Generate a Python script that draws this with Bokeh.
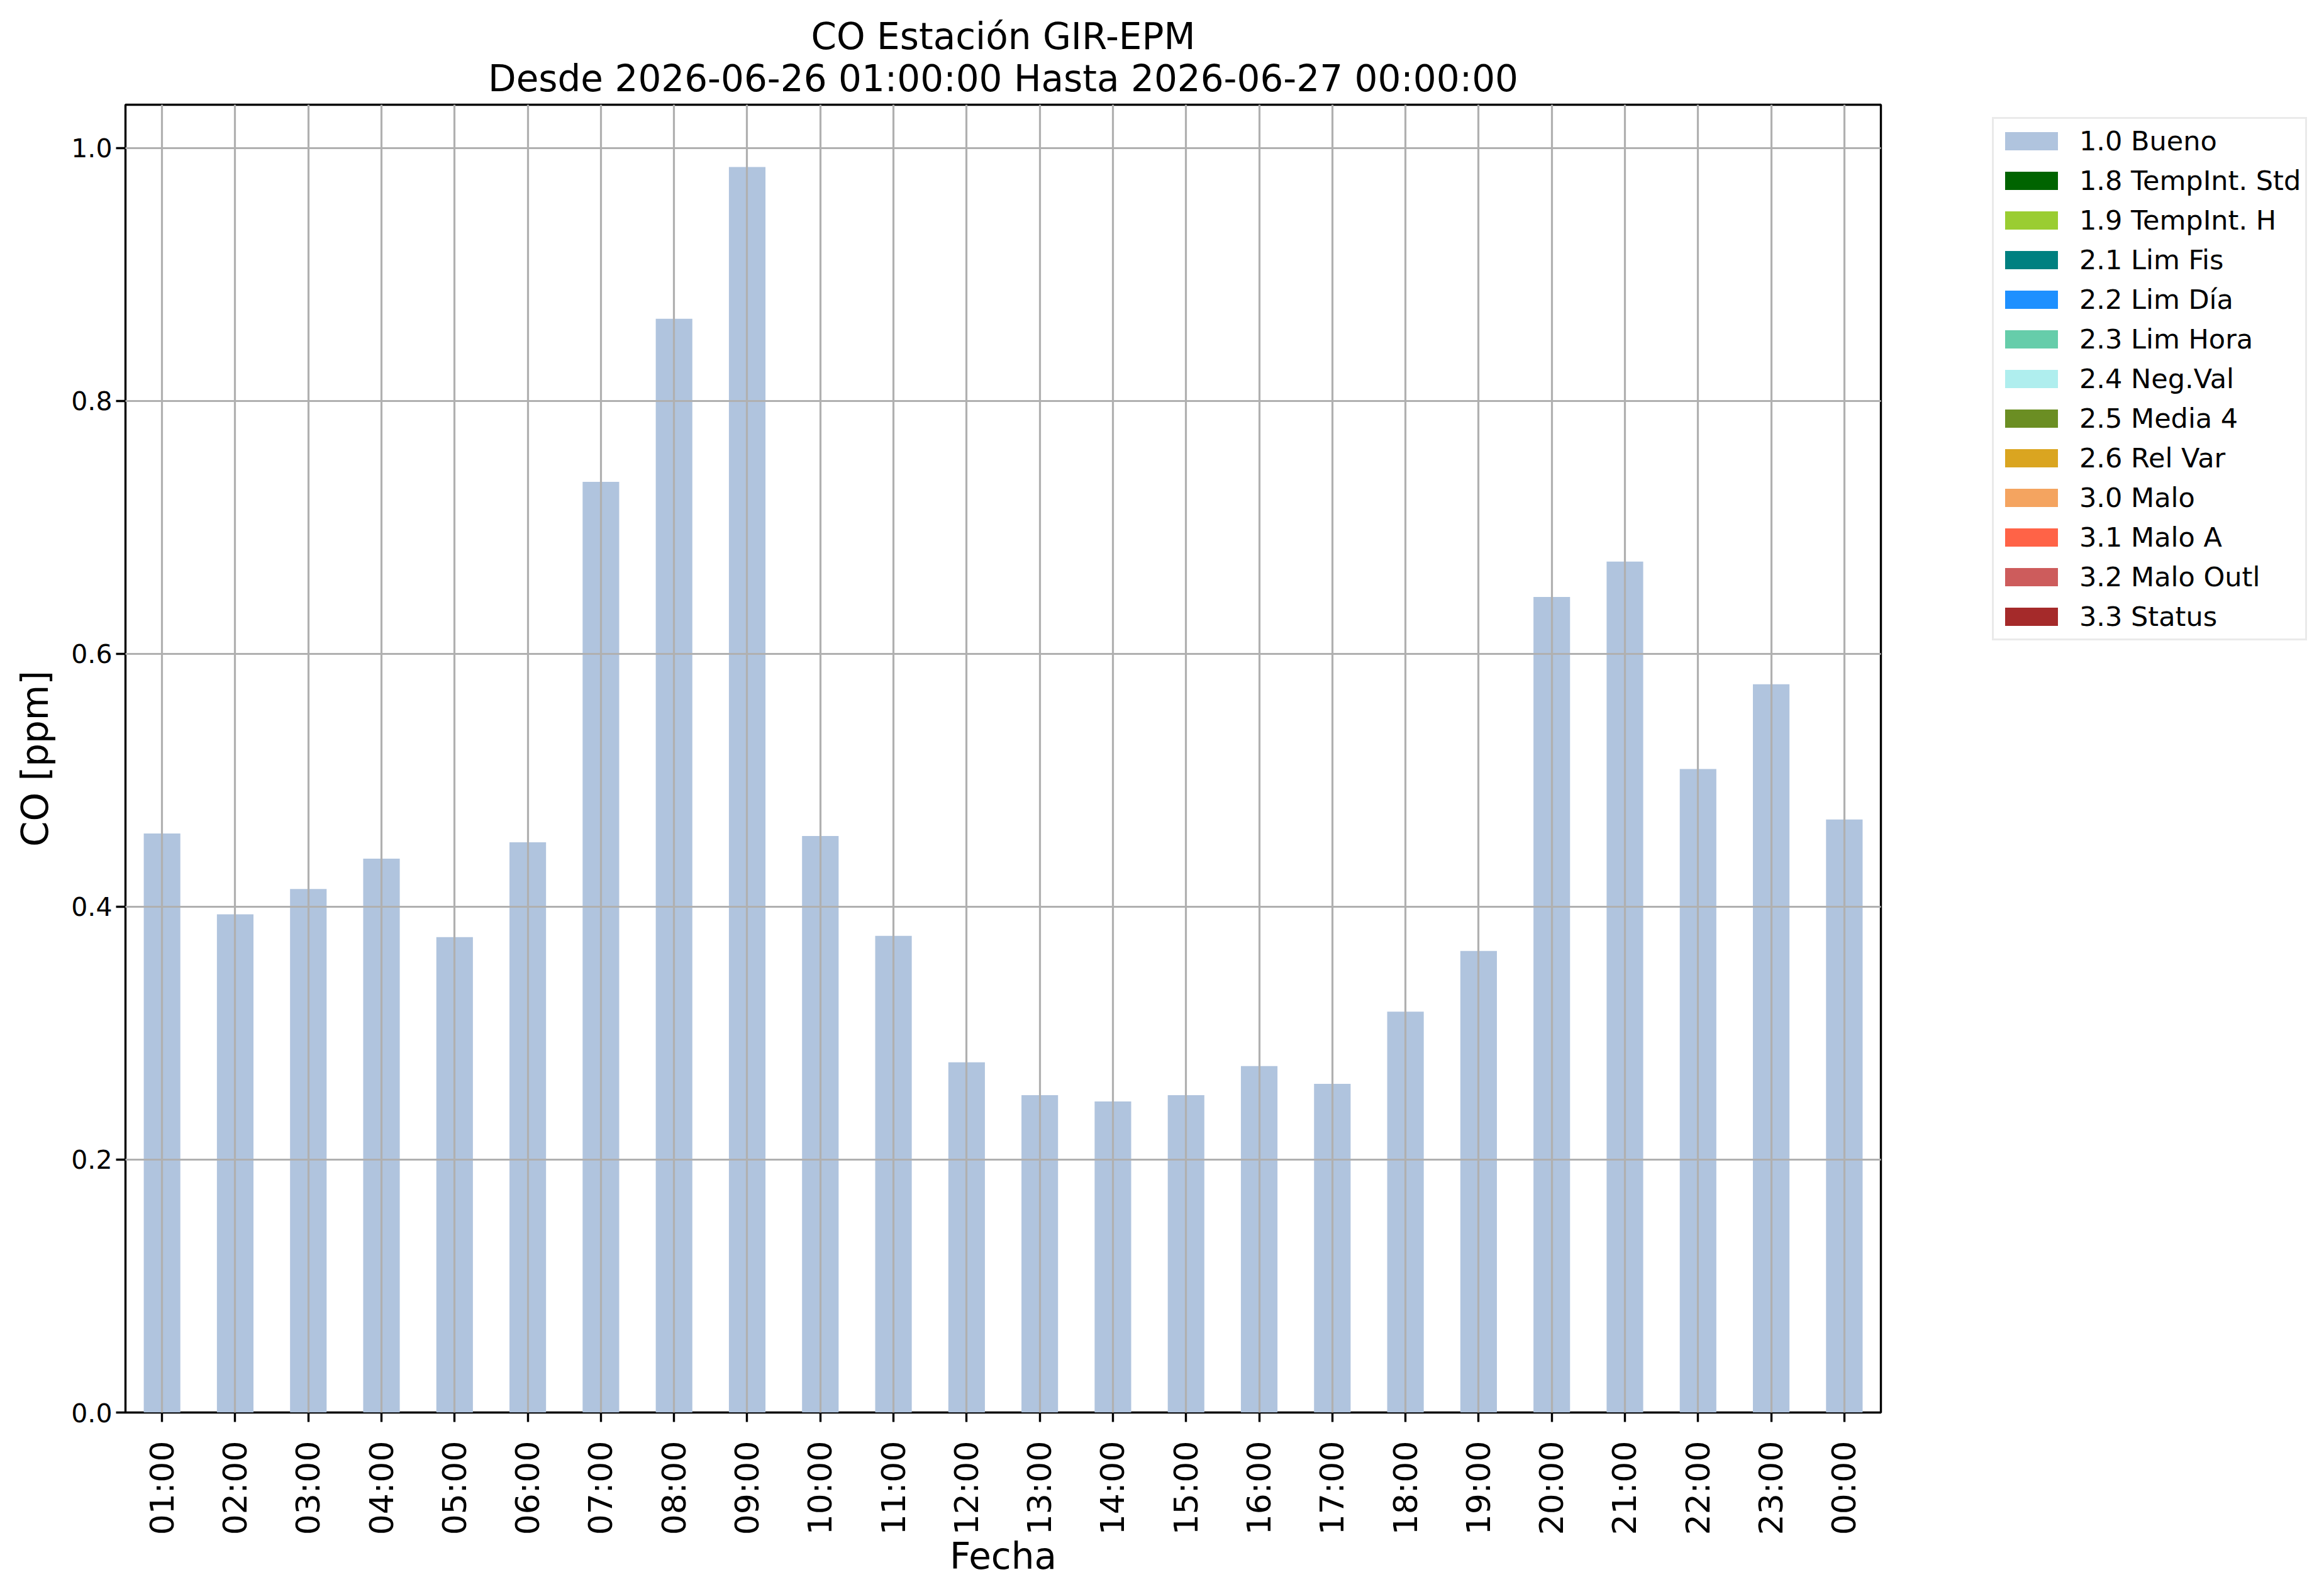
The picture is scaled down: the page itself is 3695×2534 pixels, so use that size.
import math
from bokeh.plotting import figure
from bokeh.layouts import row, column
from bokeh.models import (FactorRange, Range1d, FixedTicker, PrintfTickFormatter,
                          Legend, LegendItem, Label, ColumnDataSource)
from bokeh.embed import file_html
from bokeh.resources import INLINE

hours = ["01:00", "02:00", "03:00", "04:00", "05:00", "06:00", "07:00", "08:00",
         "09:00", "10:00", "11:00", "12:00", "13:00", "14:00", "15:00", "16:00",
         "17:00", "18:00", "19:00", "20:00", "21:00", "22:00", "23:00", "00:00"]

bueno = [0.458, 0.394, 0.414, 0.438, 0.376, 0.451, 0.736, 0.865, 0.985, 0.456,
         0.377, 0.277, 0.251, 0.246, 0.251, 0.274, 0.260, 0.317, 0.365, 0.645,
         0.673, 0.509, 0.576, 0.469]

flag_labels = ["1.0 Bueno", "1.8 TempInt. Std", "1.9 TempInt. H", "2.1 Lim Fis",
               "2.2 Lim Día", "2.3 Lim Hora", "2.4 Neg.Val", "2.5 Media 4",
               "2.6 Rel Var", "3.0 Malo", "3.1 Malo A", "3.2 Malo Outl", "3.3 Status"]
flag_colors = ["#B0C4DE", "#006400", "#9ACD32", "#008080", "#1E90FF", "#66CDAA",
               "#AFEEEE", "#6B8E23", "#DAA520", "#F4A460", "#FF6347", "#CD5C5C",
               "#A52A2A"]

title1 = "CO Estación GIR-EPM"
title2 = "Desde 2026-06-26 01:00:00 Hasta 2026-06-27 00:00:00"
x_label = "Fecha"
y_label = "CO [ppm]"

FONT = "DejaVu Sans"

# layout geometry (pixels)
TOTAL_W, TOTAL_H = 3679, 2518
TITLE_H = 158
MAIN_W = 3030
LEFT, RIGHT, TOP_IN, BOTTOM = 199, 40, 8, 273
BODY_H = TOTAL_H - TITLE_H
TEXT_SHIFT = 18

data = {"hour": hours, "idx": list(range(len(hours)))}
keys = []
for i, lab in enumerate(flag_labels):
    k = "f%d" % i
    keys.append(k)
    data[k] = bueno if i == 0 else [0.0] * len(hours)
src = ColumnDataSource(data)

# ---------------- title strip ----------------
tf = figure(width=TOTAL_W, height=TITLE_H, x_range=Range1d(0, TOTAL_W),
            y_range=Range1d(0, TITLE_H), output_backend="svg", toolbar_location=None,
            x_axis_location=None, y_axis_location=None, title=None,
            min_border_left=0, min_border_right=0, min_border_top=0, min_border_bottom=0)
tf.outline_line_color = None
tf.grid.visible = False
tf.background_fill_color = "white"
tf.border_fill_color = "white"
frame_center = (LEFT + (MAIN_W - RIGHT)) / 2.0
for txt, base in ((title1, 75), (title2, 142)):
    tf.add_layout(Label(x=frame_center, y=TITLE_H - base + TEXT_SHIFT, text=txt,
                        text_font=FONT, text_font_size="58px", text_color="black",
                        text_align="center", text_baseline="alphabetic"))

# ---------------- main chart ----------------
p = figure(width=MAIN_W, height=BODY_H, x_range=FactorRange(*hours),
           y_range=Range1d(0, 1.0343), output_backend="svg", toolbar_location=None,
           title=None,
           min_border_left=LEFT, min_border_right=RIGHT, min_border_top=TOP_IN,
           min_border_bottom=BOTTOM)

p.vbar_stack(keys, x="hour", width=0.5, source=src, color=flag_colors,
             line_color=None)

p.outline_line_color = "black"
p.outline_line_width = 3.4
p.background_fill_color = "white"
p.border_fill_color = "white"

for g in (p.xgrid, p.ygrid):
    g.grid_line_color = "#b0b0b0"
    g.grid_line_width = 3.2
    g.level = "guide"

for ax in (p.xaxis, p.yaxis):
    ax.axis_line_color = None
    ax.major_tick_line_color = "black"
    ax.major_tick_line_width = 3.4
    ax.major_tick_out = 15
    ax.major_tick_in = 0
    ax.minor_tick_line_color = None
    ax.major_label_text_font = FONT
    ax.major_label_text_color = "black"
    ax.axis_label_text_font = FONT
    ax.axis_label_text_font_style = "normal"
    ax.axis_label_text_font_size = "58px"
    ax.axis_label_text_color = "black"

p.yaxis.ticker = FixedTicker(ticks=[0.0, 0.2, 0.4, 0.6, 0.8, 1.0])
p.yaxis.formatter = PrintfTickFormatter(format="%.1f")
p.yaxis.major_label_text_font_size = "41px"
p.yaxis.major_label_standoff = 6
p.yaxis.axis_label = y_label
p.yaxis.axis_label_standoff = 20

p.xaxis.major_label_orientation = math.pi / 2
p.xaxis.major_label_text_font_size = "52px"
p.xaxis.major_label_standoff = 30
p.xaxis.axis_label = x_label
p.xaxis.axis_label_text_line_height = 1.0
p.xaxis.axis_label_standoff = -3
p.x_range.range_padding = 0
p.x_range.factor_padding = 0

# ---------------- legend panel (frames align with the chart) ----------------
q = figure(width=TOTAL_W - MAIN_W, height=BODY_H, x_range=Range1d(-30, -29),
           y_range=Range1d(0, 1), output_backend="svg", toolbar_location=None,
           x_axis_location=None, y_axis_location=None, title=None,
           min_border_left=117, min_border_top=TOP_IN, min_border_right=0,
           min_border_bottom=0)
q.outline_line_color = None
q.grid.visible = False
q.background_fill_color = "white"
q.border_fill_color = "white"

items = []
for lab, col, k in zip(flag_labels, flag_colors, keys):
    r = q.vbar(x="idx", top=k, width=0.5, source=src, fill_color=col, line_color=None)
    items.append(LegendItem(label=lab, renderers=[r]))

legend = Legend(items=items, location="top_left", orientation="vertical",
                label_text_font=FONT, label_text_font_size="43px",
                label_text_color="black",
                glyph_width=105, glyph_height=36, label_height=56, label_standoff=24,
                spacing=7, padding=7, margin=20,
                border_line_color="#d6d6d6", border_line_width=3.4,
                background_fill_color="white", background_fill_alpha=1.0)
q.add_layout(legend, "center")

layout = column(tf, row(p, q, spacing=0), spacing=0)
open("out.html", "w").write(file_html(layout, INLINE))
